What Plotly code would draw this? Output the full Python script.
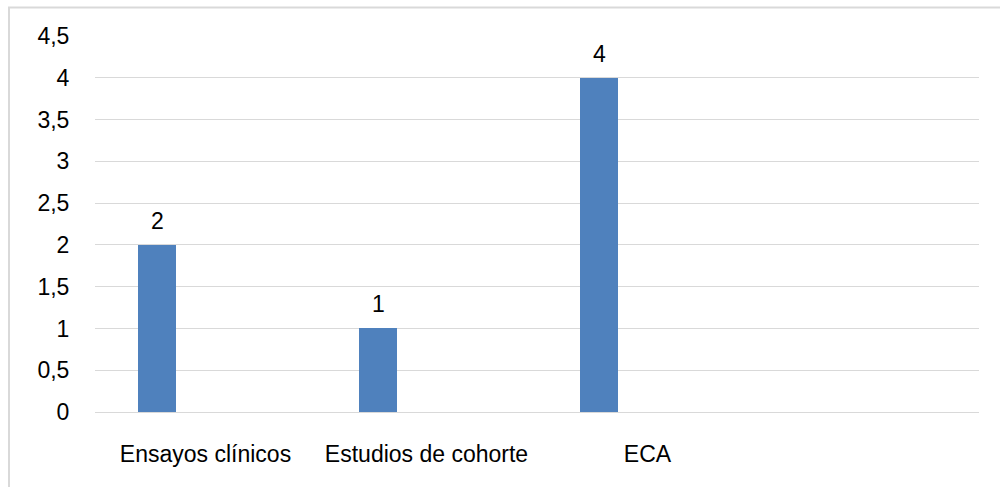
import plotly.graph_objects as go

# Number of studies by design
categories = ["Ensayos clínicos", "Estudios de cohorte", "ECA", " "]
counts = [2, 1, 4, None]

y_tick_values = [0, 0.5, 1, 1.5, 2, 2.5, 3, 3.5, 4, 4.5]
y_tick_labels = ["0", "0,5", "1", "1,5", "2", "2,5", "3", "3,5", "4", "4,5"]

FONT = "Liberation Sans, Arial, sans-serif"
FONT_SIZE = 23
BAR_COLOR = "#4F81BD"
GRID_COLOR = "#d9d9d9"

fig = go.Figure()

fig.add_trace(go.Bar(
    x=categories,
    y=counts,
    marker=dict(color=BAR_COLOR, line=dict(width=0)),
    width=0.174,
    offset=-0.307,
    hoverinfo="x+y",
))

# value labels above each bar
for cat, val in zip(categories, counts):
    if val is None:
        continue
    fig.add_annotation(
        x=cat, y=val, xref="x", yref="y",
        text=str(val), showarrow=False,
        yanchor="bottom", xanchor="center",
        xshift=-48.5, yshift=9,
        font=dict(family=FONT, size=FONT_SIZE, color="#000000"),
    )

# light outer chart border (left and top edges visible)
fig.add_shape(
    type="rect", xref="paper", yref="paper",
    x0=-0.0973, x1=1.2, y0=-0.5, y1=1.0758,
    line=dict(color=GRID_COLOR, width=2),
    layer="below",
)

fig.update_layout(
    width=1000, height=487,
    margin=dict(l=95, r=21, t=36, b=75),
    paper_bgcolor="white",
    plot_bgcolor="white",
    showlegend=False,
    bargap=0,
    font=dict(family=FONT, size=FONT_SIZE, color="#000000"),
    xaxis=dict(
        type="category",
        categoryorder="array",
        categoryarray=categories,
        range=[-0.5, 3.5],
        showgrid=False,
        showline=False,
        zeroline=False,
        ticks="outside",
        ticklen=21,
        tickcolor="rgba(0,0,0,0)",
        tickfont=dict(family=FONT, size=FONT_SIZE, color="#000000"),
    ),
    yaxis=dict(
        range=[0, 4.5],
        tickmode="array",
        tickvals=y_tick_values,
        ticktext=y_tick_labels,
        showgrid=True,
        gridcolor=GRID_COLOR,
        gridwidth=1,
        zeroline=True,
        zerolinecolor=GRID_COLOR,
        zerolinewidth=1,
        showline=False,
        ticks="outside",
        ticklen=20,
        tickcolor="rgba(0,0,0,0)",
        tickfont=dict(family=FONT, size=FONT_SIZE, color="#000000"),
    ),
)

fig.write_html("out.html")
